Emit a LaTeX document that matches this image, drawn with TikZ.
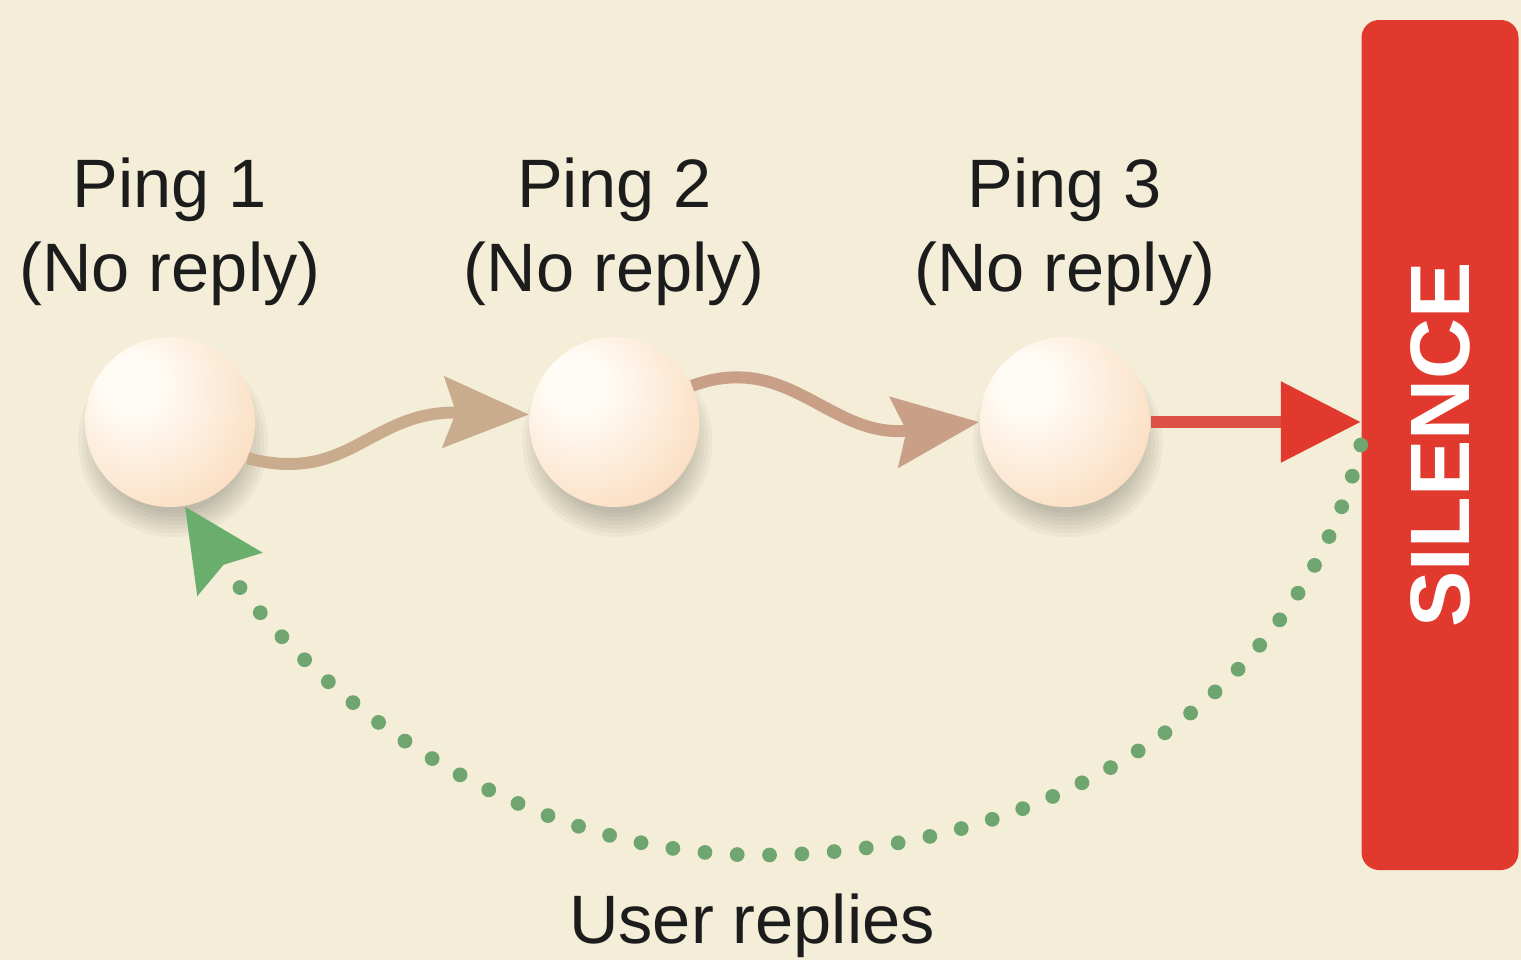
\documentclass[tikz,border=0pt]{standalone}
\usepackage{fontspec}
\setmainfont{Liberation Sans}
\usetikzlibrary{positioning, arrows.meta, backgrounds}

\definecolor{bgcream}{HTML}{F4EDD8}
\definecolor{ballhi}{HTML}{FFFCF6}
\definecolor{ballmid}{HTML}{FCE5CE}
\definecolor{ballrim}{HTML}{F6C69C}
\definecolor{tanone}{HTML}{C8AC8D}
\definecolor{tantwo}{HTML}{C99F88}
\definecolor{alarmred}{HTML}{E1392D}
\definecolor{shaftred}{HTML}{DC5045}
\definecolor{replygreen}{HTML}{6FA670}
\definecolor{headgreen}{HTML}{69AE6C}
\definecolor{inkgray}{HTML}{1C1C1C}

\pgfdeclareradialshading{pingball}{\pgfpoint{-12bp}{12bp}}{%
  color(0bp)=(ballhi); color(8bp)=(ballhi); color(30bp)=(ballmid);
  color(58bp)=(ballrim); color(100bp)=(ballrim)}

\begin{document}
\begin{tikzpicture}[
    font=\fontsize{19.5}{24}\selectfont,
    ping/.style={circle, minimum size=1.7cm, inner sep=0pt, shading=pingball},
    pinglabel/.style={align=center, inner sep=0pt, text=inkgray},
    silencebox/.style={rectangle, rounded corners=5pt, fill=alarmred, text=white,
        minimum width=8.5cm, minimum height=1.57cm,
        font=\fontsize{24}{28}\selectfont\bfseries},
    wave/.style={line width=3.4pt, #1, -{Stealth[length=8.5mm, width=7mm, inset=1.2mm]}},
    backdots/.style={replygreen, line width=4.2pt, line cap=round, dash pattern=on 0pt off 9.2pt},
]

\useasboundingbox (0,0) rectangle (15.21,9.6);

% ---- Pings ----
\node[ping] (p1) at (1.70,5.38) {};
\node[ping, right=2.73cm of p1] (p2) {};
\node[ping, right=2.79cm of p2] (p3) {};

\node[pinglabel, above=3mm of p1] (l1) {Ping 1\\(No reply)};
\node[pinglabel, above=3mm of p2] (l2) {Ping 2\\(No reply)};
\node[pinglabel, above=3mm of p3] (l3) {Ping 3\\(No reply)};

% ---- Silence bar (rotated: north is its left side) ----
\node[silencebox, rotate=90] (silence) at (14.40,5.15) {SILENCE};

% ---- Arrows between pings ----
\draw[wave=tanone] (p1.-25) .. controls (3.5,4.75) and (3.7,5.5) .. (p2.175);
\draw[wave=tantwo] (p2.25) .. controls (7.9,6.1) and (8.3,5.2) .. (p3.west);
\draw[shaftred, line width=3.6pt, -{Triangle[length=8mm, width=7.8mm, color=alarmred]}]
    (p3.east) -- (p3.east -| silence.north);

% ---- Way back ----
\draw[backdots, -{Stealth[length=8mm, width=7.5mm, inset=1mm, color=headgreen]}]
    (silence.north) .. controls (13.0,2.6) and (10.5,1.05) .. (7.6,1.05)
    .. controls (5.0,1.05) and (3.0,2.8) .. (p1.-80);
\node[pinglabel] (reply) at (7.52,0.34) {User replies};

% ---- Backdrop and soft shadows ----
\begin{scope}[on background layer]
  \fill[bgcream] (0,0) rectangle (15.21,9.6);
  \foreach \b in {p1,p2,p3}
    \foreach \r in {0.95,0.91,...,0.71}
      \fill[black, opacity=0.03] ([shift={(0.03,-0.2)}]\b.center) circle (\r);
\end{scope}

\end{tikzpicture}
\end{document}
